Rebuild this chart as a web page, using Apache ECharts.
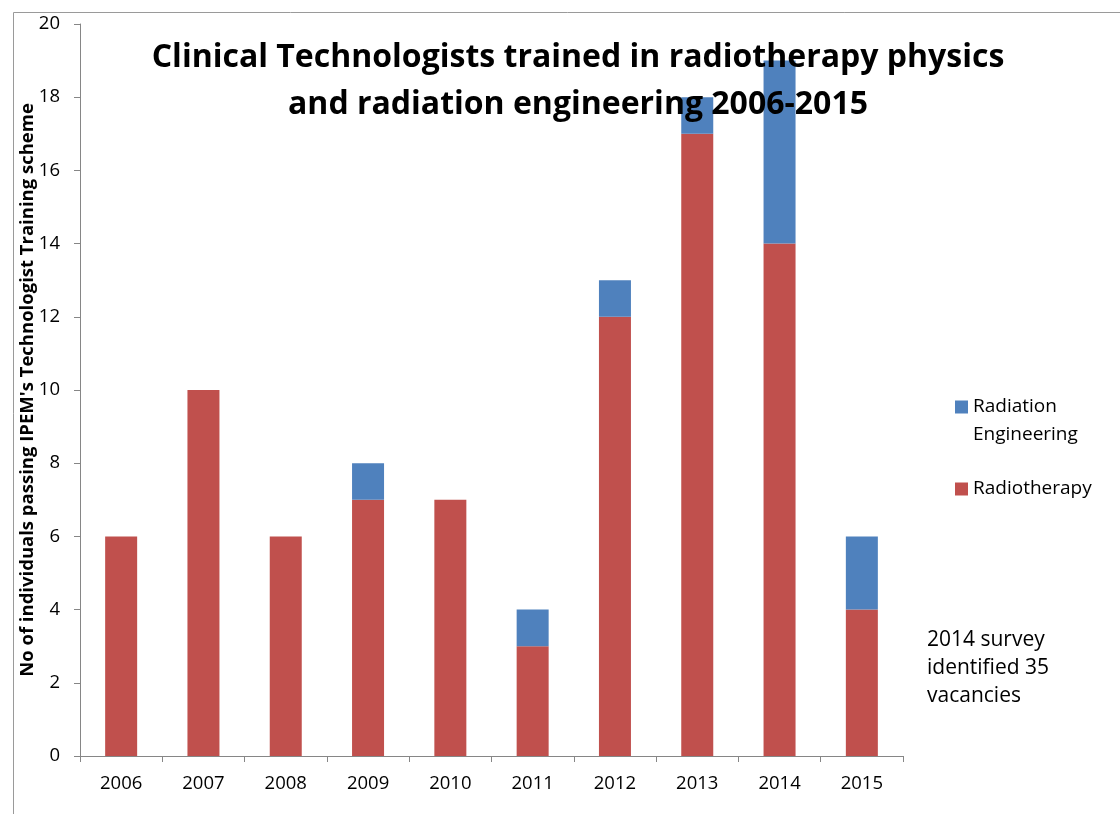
<!DOCTYPE html>
<html>
<head>
<meta charset="utf-8">
<script src="https://cdn.jsdelivr.net/npm/echarts@6/dist/echarts.min.js"></script>
<style>html,body{margin:0;padding:0;background:#fff;}#c{width:1120px;height:814px;}</style>
</head>
<body>
<div id="c"></div>
<script>
const years = ['2006','2007','2008','2009','2010','2011','2012','2013','2014','2015'];
const radiotherapy = [6, 10, 6, 7, 7, 3, 12, 17, 14, 4];
const radiationEngineering = [0, 0, 0, 1, 0, 1, 1, 1, 5, 2];
const titleText = 'Clinical Technologists trained in radiotherapy physics\nand radiation engineering 2006-2015';
const yAxisTitle = "No of individuals passing IPEM's Technologist Training scheme";
const noteText = '2014 survey\nidentified 35\nvacancies';

const FONT = '"Open Sans"';
const chart = echarts.init(document.getElementById('c'), null, {renderer: 'canvas'});
chart.setOption({
  animation: false,
  backgroundColor: '#fff',
  textStyle: {fontFamily: FONT},
  title: {
    text: titleText,
    left: 573, textAlign: 'center', top: 29,
    textStyle: {fontFamily: FONT, fontWeight: 'bold', fontSize: 32, lineHeight: 47, color: '#000'}
  },
  grid: {left: 80, right: 217, top: 24, bottom: 58, containLabel: false},
  legend: {
    orient: 'vertical', left: 950, top: 360,
    itemWidth: 13, itemHeight: 13, itemGap: 26,
    icon: 'rect',
    formatter: n => n === 'Radiation Engineering' ? ' \nRadiation\nEngineering' : n,
    textStyle: {fontFamily: FONT, fontSize: 19, color: '#000', lineHeight: 28},
    data: ['Radiation Engineering', 'Radiotherapy']
  },
  xAxis: {
    type: 'category', data: years,
    axisLine: {lineStyle: {color: '#868686', width: 1}},
    axisTick: {show: true, length: 6, inside: false, lineStyle: {color: '#868686'}},
    axisLabel: {fontFamily: FONT, fontSize: 18.5, color: '#000', margin: 18}
  },
  yAxis: {
    type: 'value', min: 0, max: 20, interval: 2,
    name: yAxisTitle, nameLocation: 'middle', nameGap: 43, nameRotate: 90,
    nameMoveOverlap: false,
    nameTextStyle: {fontFamily: FONT, fontWeight: 'bold', fontSize: 18.5, color: '#000'},
    splitLine: {show: false},
    axisLine: {show: true, lineStyle: {color: '#868686', width: 1}},
    axisTick: {show: true, length: 6, lineStyle: {color: '#868686'}},
    axisLabel: {fontFamily: FONT, fontSize: 18.5, color: '#000', margin: 20}
  },
  series: [
    {name: 'Radiotherapy', type: 'bar', stack: 'a', data: radiotherapy,
     barWidth: 32, itemStyle: {color: '#C0504D'}},
    {name: 'Radiation Engineering', type: 'bar', stack: 'a', data: radiationEngineering,
     barWidth: 32, itemStyle: {color: '#4F81BD'}}
  ],
  graphic: [
    {type: 'rect', left: 11, top: 10, shape: {width: 1200, height: 900}, silent: true,
     style: {fill: 'none', stroke: '#9a9a9a', lineWidth: 1}, z: -10},
    {type: 'text', left: 927, top: 626,
     style: {text: noteText, font: '21px ' + FONT, fill: '#000', lineHeight: 28}}
  ]
});
</script>
</body>
</html>
